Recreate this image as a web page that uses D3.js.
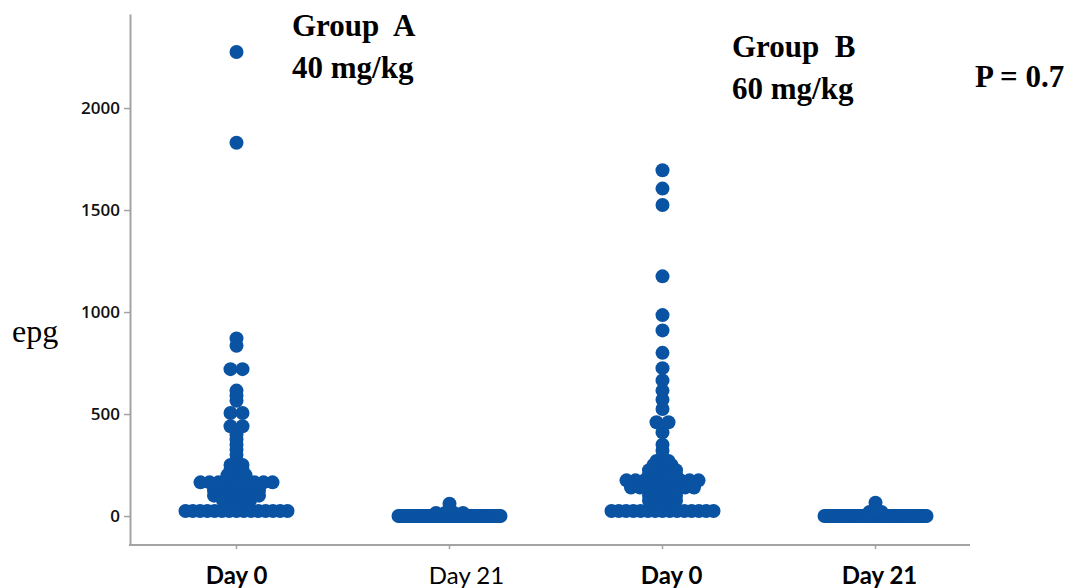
<!DOCTYPE html>
<html>
<head>
<meta charset="utf-8">
<script src="https://cdn.jsdelivr.net/npm/d3@7"></script>
<style>
  body { margin: 0; background: #fff; }
</style>
</head>
<body>
<script>
// categories along the x axis and their labels
var categories = ["A0", "A21", "B0", "B21"];
var tickLabels = ["Day 0", "Day 21", "Day 0", "Day 21"];
var yTicks = [0, 500, 1000, 1500, 2000];

// epg per animal
var groupA_day0 = [25, 25, 25, 25, 25, 25, 25, 25, 25, 25, 25, 25, 25, 25, 25,
  75, 75, 75, 75, 100, 100, 100, 100, 100, 100, 125, 125, 125, 125, 125, 125,
  150, 150, 150, 150, 150, 150, 165, 165, 165, 165, 165, 165, 165, 165, 165,
  200, 200, 200, 225, 225, 250, 250, 275, 300, 325, 350, 375, 400,
  440, 440, 505, 505, 565, 590, 615, 720, 720, 835, 870, 1830, 2275];
var groupA_day21 = [0, 0, 0, 0, 0, 0, 0, 0, 0, 0, 0, 0, 0, 0, 0, 0,
  0, 0, 0, 0, 0, 0, 0, 0, 0, 0, 0, 0, 0, 0, 0, 0,
  0, 0, 0, 0, 0, 0, 0, 0, 0, 0, 0, 0, 0, 0, 0, 0,
  0, 0, 0, 0, 0, 0, 0, 0, 0, 0, 0, 0, 0, 0, 0, 0,
  0, 0, 0, 15, 15, 15, 15, 60];
var groupB_day0 = [25, 25, 25, 25, 25, 25, 25, 25, 25, 25, 25, 25, 25, 25, 25,
  75, 75, 75, 75, 100, 100, 100, 100, 125, 125, 125, 125,
  140, 140, 140, 140, 140, 140, 140, 140, 175, 175, 175, 175, 175, 175, 175, 175, 175,
  200, 200, 200, 200, 225, 225, 225, 225, 250, 250, 250, 270, 270,
  290, 320, 350, 410, 460, 460, 525, 570, 615, 665, 725, 800, 910, 985,
  1175, 1525, 1605, 1695];
var groupB_day21 = [0, 0, 0, 0, 0, 0, 0, 0, 0, 0, 0, 0, 0, 0, 0, 0,
  0, 0, 0, 0, 0, 0, 0, 0, 0, 0, 0, 0, 0, 0, 0, 0,
  0, 0, 0, 0, 0, 0, 0, 0, 0, 0, 0, 0, 0, 0, 0, 0,
  0, 0, 0, 0, 0, 0, 0, 0, 0, 0, 0, 0, 0, 0, 0, 0,
  0, 0, 0, 0, 0, 0, 0, 0, 20, 20, 65];

var series = [groupA_day0, groupA_day21, groupB_day0, groupB_day21];

var width = 1073,
    height = 588,
    dotColor = "#0a53a3",
    axisColor = "#a3a3a3",
    r = 7,
    bin = 25,      // values closer than this share a row
    rowMax = 102;  // widest a row of dots may spread

var svg = d3.select("body").append("svg")
    .attr("width", width)
    .attr("height", height);

var x = d3.scaleBand()
    .domain(categories)
    .range([130, 982]);

var y = d3.scaleLinear()
    .domain([-142, 2461])
    .range([545, 14]);

// y axis
var yAxis = d3.axisLeft(y)
    .tickValues(yTicks)
    .tickFormat(d3.format("d"))
    .tickSize(6)
    .tickSizeOuter(0)
    .tickPadding(4);

var gy = svg.append("g")
    .attr("transform", "translate(130,0)")
    .call(yAxis);
gy.select(".domain").attr("stroke", axisColor).attr("stroke-width", 2);
gy.selectAll(".tick line").attr("stroke", axisColor).attr("stroke-width", 1.5);
gy.selectAll(".tick text")
    .style("font-family", "'Open Sans', sans-serif")
    .style("font-size", "17px")
    .style("font-weight", 600)
    .attr("fill", "#111");

// x axis
var labelNudge = [0, 17, 9, 4];
var labelWeight = [700, 400, 700, 700];

var xAxis = d3.axisBottom(x)
    .tickSize(4)
    .tickSizeOuter(0)
    .tickPadding(18)
    .tickFormat(function(d, i) { return tickLabels[i]; });

var gx = svg.append("g")
    .attr("transform", "translate(0,545)")
    .call(xAxis);
gx.select(".domain").remove();
gx.append("line")
    .attr("x1", 129).attr("x2", 970)
    .attr("stroke", axisColor).attr("stroke-width", 2);
gx.selectAll(".tick line").attr("stroke", axisColor).attr("stroke-width", 1.5);
gx.selectAll(".tick text")
    .attr("dx", function(d, i) { return labelNudge[i]; })
    .style("font-family", "Lato, sans-serif")
    .style("font-size", "24px")
    .style("font-weight", function(d, i) { return labelWeight[i]; })
    .attr("fill", "#000");

// spread dots that share a value row symmetrically round the category centre;
// pairs sit apart, bigger rows pack tighter and long rows squeeze into rowMax
function rows(values) {
  var out = [];
  d3.group(values, function(v) { return Math.round(v / bin); }).forEach(function(g) {
    var n = g.length,
        step = n <= 2 ? 12 : Math.min(9, rowMax / (n - 1));
    g.forEach(function(v, i) {
      out.push({ v: v, dx: (i - (n - 1) / 2) * step });
    });
  });
  return out;
}

series.forEach(function(vals, k) {
  var cx = x(categories[k]) + x.bandwidth() / 2;
  svg.append("g").selectAll("circle")
      .data(rows(vals))
    .enter().append("circle")
      .attr("cx", function(d) { return cx + d.dx; })
      .attr("cy", function(d) { return y(d.v); })
      .attr("r", r)
      .attr("fill", dotColor);
});

// annotations
var serif = "'Liberation Serif', 'Times New Roman', serif";

svg.append("text")
    .attr("x", 12).attr("y", 342)
    .style("font-family", serif)
    .style("font-size", "32px")
    .text("epg");

var notes = [
  { t: "Group  A", x: 292, y: 36 },
  { t: "40 mg/kg", x: 292, y: 78 },
  { t: "Group  B", x: 732, y: 57 },
  { t: "60 mg/kg", x: 732, y: 99 },
  { t: "P = 0.7", x: 975, y: 87 }
];

svg.selectAll(".note")
    .data(notes)
  .enter().append("text")
    .attr("class", "note")
    .attr("x", function(d) { return d.x; })
    .attr("y", function(d) { return d.y; })
    .style("font-family", serif)
    .style("font-size", "31px")
    .style("font-weight", 700)
    .style("white-space", "pre")
    .text(function(d) { return d.t; });
</script>
</body>
</html>
